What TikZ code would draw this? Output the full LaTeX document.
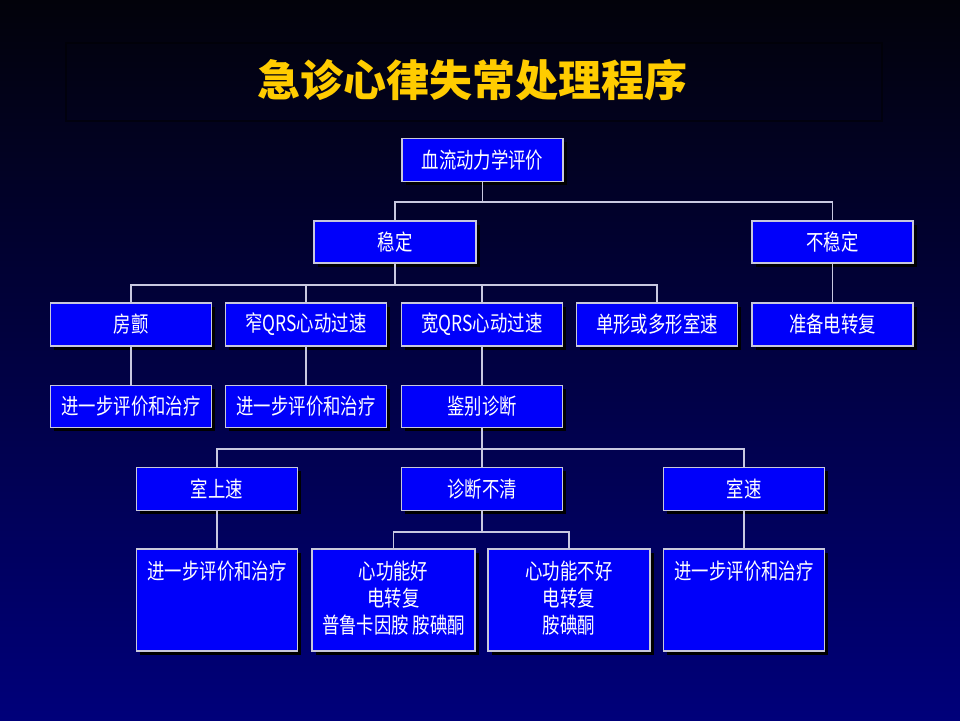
\documentclass[tikz,border=0pt]{standalone}
\usepackage{fontspec}
\usetikzlibrary{shadows}
\newfontfamily\cjk[FakeStretch=0.79]{Noto Sans CJK SC}
\newfontfamily\cjktitle{Noto Sans CJK SC}
\definecolor{bgtop}{RGB}{2,2,10}
\definecolor{bgbot}{RGB}{0,0,122}
\definecolor{boxblue}{RGB}{0,0,250}
\definecolor{boxline}{RGB}{200,200,220}
\definecolor{connline}{RGB}{200,200,225}
\definecolor{titleyellow}{RGB}{255,204,0}
\tikzset{
  box/.style={draw=boxline, line width=1.3pt, fill=boxblue, minimum width=161pt, minimum height=43pt, inner sep=0pt,
    text=white, font=\cjk\fontsize{22}{27}\selectfont,
    drop shadow={shadow xshift=3.5pt, shadow yshift=-3.5pt, fill=black, opacity=1}},
  tallbox/.style={box, minimum height=102pt},
  boxtext/.style={text=white, font=\cjk\fontsize{22}{27}\selectfont, align=center, inner sep=0pt, anchor=north},
  conn/.style={draw=connline, line width=1.4pt}
}
\begin{document}
\begin{tikzpicture}[x=1pt,y=-1pt]
\useasboundingbox (0,0) rectangle (960,720);
\shade[top color=bgtop, bottom color=bgbot] (0,0) rectangle (960,720);
% title frame
\node[draw=black, opacity=0.45, line width=2pt, minimum width=816pt, minimum height=78pt, inner sep=0pt] (frame) at (474,82) {};
\node[text=titleyellow, font=\cjktitle\bfseries\fontsize{43}{48}\selectfont, inner sep=0pt] (title) at (472,80) {急诊心律失常处理程序};

% connectors (coordinates of buses)
\coordinate (b1) at (482.5,202);
\coordinate (b2) at (395,285);
\coordinate (b3) at (482,449);
\coordinate (b4) at (482,532);

% row 1-2
\node[box] (top) at (482.5,160) {血流动力学评价};
\node[box, minimum width=162pt, minimum height=42pt] (wd) at (395,242) {稳定};
\node[box, minimum height=42pt] (bwd) at (832.5,242) {不稳定};
% row 3
\node[box] (fc) at (131,324.5) {房颤};
\node[box] (zx) at (306,324.5) {窄QRS心动过速};
\node[box] (kx) at (482,324.5) {宽QRS心动过速};
\node[box] (dx) at (657,324.5) {单形或多形室速};
\node[box] (zb) at (832.5,324.5) {准备电转复};
% row 4
\node[box, minimum height=42pt] (j1) at (131,406.5) {进一步评价和治疗};
\node[box, minimum height=42pt] (j2) at (306,406.5) {进一步评价和治疗};
\node[box, minimum height=42pt] (jb) at (482,406.5) {鉴别诊断};
% row 5
\node[box] (ssv) at (217,489) {室上速};
\node[box] (zd) at (482,489) {诊断不清};
\node[box] (vt) at (744,489) {室速};
% row 6
\node[tallbox] (j3) at (217,600) {};
\node[tallbox, minimum width=163pt] (xg) at (393.5,600) {};
\node[tallbox, minimum width=162pt] (xb) at (569,600) {};
\node[tallbox] (j4) at (744,600) {};
\node[boxtext] (j3t) at (217,561) {进一步评价和治疗};
\node[boxtext] (xgt) at (393.5,561) {心功能好\\电转复\\普鲁卡因胺 胺碘酮};
\node[boxtext] (xbt) at (569,561) {心功能不好\\电转复\\胺碘酮};
\node[boxtext] (j4t) at (744,561) {进一步评价和治疗};

% connector lines
\draw[conn] (top.south) -- (b1);
\draw[conn] (wd.north) |- (b1) -| (bwd.north);
\draw[conn] (wd.south) -- (wd.south |- b2);
\draw[conn] (fc.north) |- (b2) -| (dx.north);
\draw[conn] (zx.north) -- (zx.north |- b2);
\draw[conn] (kx.north) -- (kx.north |- b2);
\draw[conn] (bwd.south) -- (zb.north);
\draw[conn] (fc.south) -- (j1.north);
\draw[conn] (zx.south) -- (j2.north);
\draw[conn] (kx.south) -- (jb.north);
\draw[conn] (jb.south) -- (b3);
\draw[conn] (ssv.north) |- (b3) -| (vt.north);
\draw[conn] (zd.north) -- (b3);
\draw[conn] (ssv.south) -- (j3.north);
\draw[conn] (vt.south) -- (j4.north);
\draw[conn] (zd.south) -- (b4);
\draw[conn] (xg.north) |- (b4) -| (xb.north);
\end{tikzpicture}
\end{document}
